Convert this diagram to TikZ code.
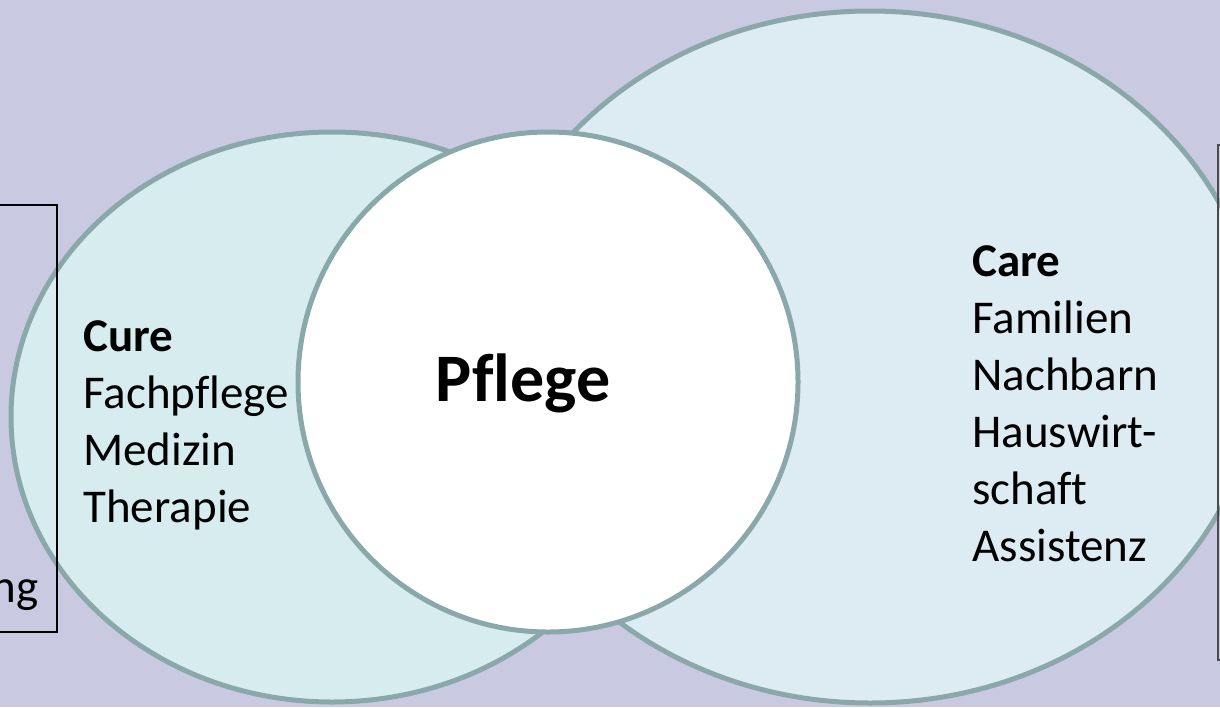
\documentclass[tikz,border=0pt]{standalone}
\usepackage{fontspec}
\setmainfont{Carlito}[Ligatures=NoCommon]
\definecolor{bgc}{HTML}{C9CAE2}
\definecolor{curefill}{HTML}{D6ECEF}
\definecolor{carefill}{HTML}{DDEBF2}
\definecolor{ringc}{HTML}{8AA8A9}
\tikzset{
  ring/.style={draw=ringc, line width=2.5pt},
  lbl/.style={inner sep=0pt, align=left, font=\fontsize{23.5}{28.5}\selectfont},
  title/.style={inner sep=0pt, font=\fontsize{34}{40}\selectfont\bfseries},
  frame/.style={draw=black, line width=0.8pt}
}
\begin{document}
\begin{tikzpicture}[x=0.5pt, y=-0.5pt]
\useasboundingbox (0,0) rectangle (1220,707);
\clip (0,0) rectangle (1220,707);
\fill[bgc] (0,0) rectangle (1220,707);
% left ellipse (Cure)
\path[ring, fill=curefill] (332,417) ellipse [x radius=160.5pt, y radius=142.5pt];
% right ellipse (Care)
\path[ring, fill=carefill] (870,357) ellipse [x radius=195pt, y radius=173pt];
% centre circle
\path[ring, fill=white] (548,382) circle [radius=125pt];
% frames
\draw[frame] (-10,205) rectangle (57,632);
\draw[draw=black!70, line width=0.9pt] (1218,145) rectangle (1300,660);
% texts
\node[lbl, anchor=base east] (ng) at (39,602) {ng};
\node[lbl, anchor=north west] (cure) at (83,320) {\textbf{Cure}\\Fachpflege\\Medizin\\Therapie};
\node[lbl, anchor=north west] (care) at (972,245) {\textbf{Care}\\Familien\\Nachbarn\\Hauswirt-\\schaft\\Assistenz};
\node[title, anchor=base east] (pflege) at (611,401) {Pflege};
\end{tikzpicture}
\end{document}
